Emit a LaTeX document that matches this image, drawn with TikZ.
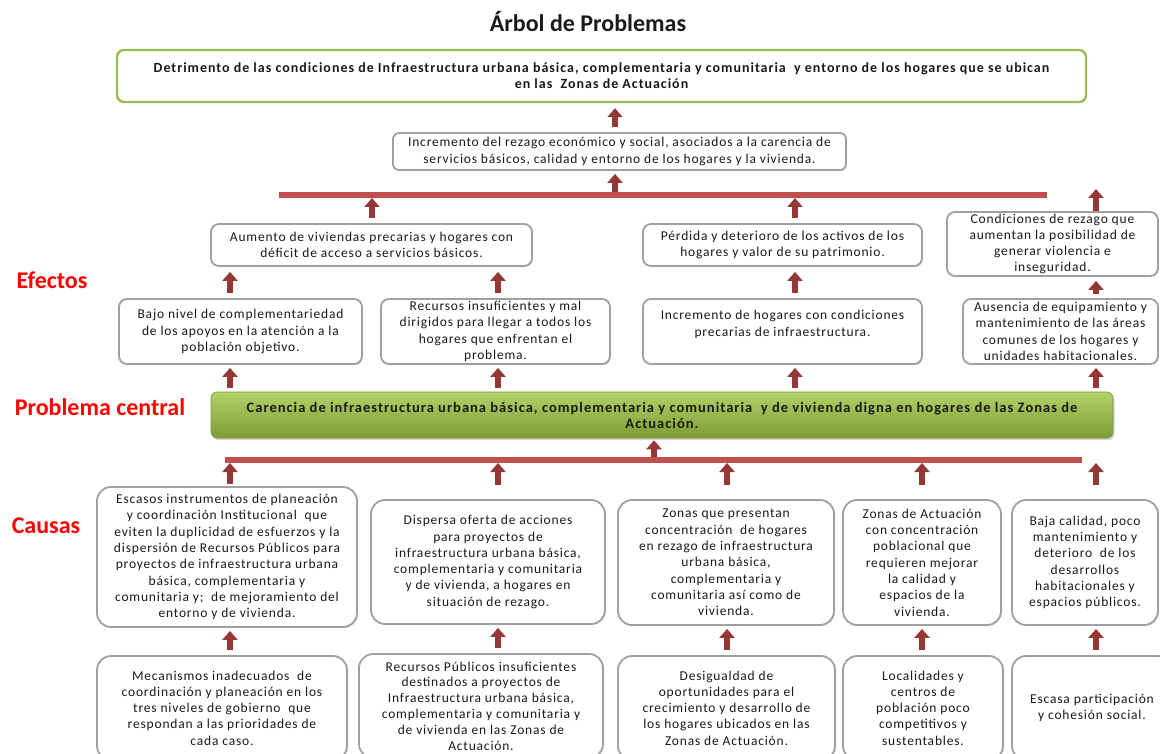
\documentclass[tikz,border=0pt]{standalone}
\usepackage{fontspec}
\setmainfont{Carlito}
\newfontfamily\bodyfont[LetterSpace=6]{Carlito}
\newfontfamily\headfont[LetterSpace=7]{Carlito}
\usetikzlibrary{arrows.meta,shadows}
\definecolor{arrowred}{HTML}{953735}
\definecolor{barred}{HTML}{C0504D}
\definecolor{boxgray}{HTML}{A0A0A0}
\definecolor{olivegreen}{HTML}{9BBB59}
\definecolor{ctop}{HTML}{B2D166}
\definecolor{cbot}{HTML}{7C9B32}
\definecolor{labelred}{HTML}{FF0000}
\definecolor{txt}{HTML}{1A1A1A}
\begin{document}
\begin{tikzpicture}[x=1pt,y=-1pt,
  box/.style={draw=boxgray, line width=1.8pt, rounded corners=8pt, fill=white, align=center, inner sep=0pt,
     font=\bodyfont\fontsize{13.5}{16.3}\selectfont, text=txt,
     drop shadow={opacity=0.18, shadow xshift=1.2pt, shadow yshift=-1.2pt}},
  cbox/.style={box, rounded corners=14pt},
  arr/.style={draw=arrowred, line width=6pt, -{Triangle[width=15pt,length=9pt]}, shorten <=5pt, shorten >=5pt},
  bar/.style={draw=barred, line width=6pt},
  lbl/.style={font=\fontsize{24}{28}\selectfont\bfseries, text=labelred}
]
\fill[white] (0,0) rectangle (1160,754);
\useasboundingbox (0,0) rectangle (1160,754);

% title and labels
\node[font=\fontsize{24}{28}\selectfont\bfseries, text=txt] (title) at (588,22) {Árbol de Problemas};
\node[lbl] (lef) at (52,280) {Efectos};
\node[lbl] (lpc) at (100,407) {Problema central};
\node[lbl] (lca) at (46,526) {Causas};

% column coordinates
\coordinate (c230) at (230,0);
\coordinate (c372) at (372,0);
\coordinate (c498) at (498,0);
\coordinate (c615) at (615,0);
\coordinate (c654) at (654,0);
\coordinate (c727) at (727,0);
\coordinate (c795) at (795,0);
\coordinate (c922) at (922,0);
\coordinate (c1096) at (1096,0);

% top effect
\node[box, draw=olivegreen, line width=2.4pt, rounded corners=7pt, minimum width=969pt, minimum height=52pt,
      font=\headfont\fontsize{14}{16}\selectfont\bfseries] (top) at (601.5,76)
  {Detrimento de las condiciones de Infraestructura urbana básica, complementaria y comunitaria \ y entorno de los hogares que se ubican\\ en las \ Zonas de Actuación};
\node[box, rounded corners=6pt, minimum width=453pt, minimum height=37pt] (inc) at (619.5,151.5)
  {Incremento del rezago económico y social, asociados a la carencia de\\ servicios básicos, calidad y entorno de los hogares y la vivienda.};

% top bar
\coordinate (tbL) at (279,195);
\coordinate (tbR) at (1047,195);
\coordinate (cTop) at (1096,189);
\draw[bar] (tbL) -- (tbR);

% effects level 1
\node[box, minimum width=321pt, minimum height=42pt] (A) at (371.5,245)
  {Aumento de viviendas precarias y hogares con\\ déficit de acceso a servicios básicos.};
\node[box, minimum width=279pt, minimum height=42pt] (B) at (782.5,245)
  {Pérdida y deterioro de los activos de los\\ hogares y valor de su patrimonio.};
\node[box, minimum width=211pt, minimum height=64pt] (C) at (1052.5,244)
  {Condiciones de rezago que\\ aumentan la posibilidad de\\ generar violencia e\\ inseguridad.};

% effects level 2
\node[box, minimum width=243pt, minimum height=65pt] (D) at (240.5,331.5)
  {Bajo nivel de complementariedad\\ de los apoyos en la atención a la\\ población objetivo.};
\node[box, minimum width=229pt, minimum height=65pt] (E) at (495.5,331.5)
  {Recursos insuficientes y mal\\ dirigidos para llegar a todos los\\ hogares que enfrentan el\\ problema.};
\node[box, minimum width=279pt, minimum height=65pt] (F) at (782.5,331.5)
  {Incremento de hogares con condiciones\\ precarias de infraestructura.\\ ~};
\node[box, minimum width=195pt, minimum height=65pt] (G) at (1060.5,331.5)
  {Ausencia de equipamiento y\\ mantenimiento de las áreas\\ comunes de los hogares y\\ unidades habitacionales.};

% central problem
\node[draw=olivegreen!80!black, line width=0.6pt, rounded corners=6pt, top color=ctop, bottom color=cbot,
      minimum width=902pt, minimum height=46pt, align=center, inner sep=0pt, text=txt,
      font=\headfont\fontsize{14.5}{16}\selectfont\bfseries,
      drop shadow={opacity=0.35, shadow xshift=1.5pt, shadow yshift=-2pt}] (cp) at (662,415)
  {Carencia de infraestructura urbana básica, complementaria y comunitaria \ y de vivienda digna en hogares de las Zonas de\\ Actuación.};

% bottom bar
\coordinate (bbL) at (225,460);
\coordinate (bbR) at (1082,460);
\draw[bar] (bbL) -- (bbR);

% causes level 1
\node[cbox, minimum width=260pt, minimum height=140pt] (H) at (227,557)
  {Escasos instrumentos de planeación\\ y coordinación Institucional \ que\\ eviten la duplicidad de esfuerzos y la\\ dispersión de Recursos Públicos para\\ proyectos de infraestructura urbana\\ básica, complementaria y\\ comunitaria y; \ de mejoramiento del\\ entorno y de vivienda.};
\node[cbox, minimum width=234pt, minimum height=124pt] (I) at (488,562)
  {Dispersa oferta de acciones\\ para proyectos de\\ infraestructura urbana básica,\\ complementaria y comunitaria\\ y de vivienda, a hogares en\\ situación de rezago.};
\node[cbox, minimum width=216pt, minimum height=125pt] (J) at (726,562.5)
  {Zonas que presentan\\ concentración \ de hogares\\ en rezago de infraestructura\\ urbana básica,\\ complementaria y\\ comunitaria así como de\\ vivienda.};
\node[cbox, minimum width=158pt, minimum height=125pt] (K) at (922,562.5)
  {Zonas de Actuación\\ con concentración\\ poblacional que\\ requieren mejorar\\ la calidad y\\ espacios de la\\ vivienda.};
\node[cbox, minimum width=146pt, minimum height=125pt] (L) at (1085,562.5)
  {Baja calidad, poco\\ mantenimiento y\\ deterioro \ de los\\ desarrollos\\ habitacionales y\\ espacios públicos.};

% causes level 2
\node[cbox, minimum width=250pt, minimum height=104pt] (M) at (222,708)
  {Mecanismos inadecuados \ de\\ coordinación y planeación en los\\ tres niveles de gobierno \ que\\ respondan a las prioridades de\\ cada caso.};
\node[cbox, minimum width=244pt, minimum height=104pt, font=\bodyfont\fontsize{13.5}{15.8}\selectfont] (N) at (481,706)
  {Recursos Públicos insuficientes\\ destinados a proyectos de\\ Infraestructura urbana básica,\\ complementaria y comunitaria y\\ de vivienda en las Zonas de\\ Actuación.};
\node[cbox, minimum width=217pt, minimum height=104pt] (O) at (726.5,708)
  {Desigualdad de\\ oportunidades para el\\ crecimiento y desarrollo de\\ los hogares ubicados en las\\ Zonas de Actuación.};
\node[cbox, minimum width=160pt, minimum height=104pt] (P) at (923,708)
  {Localidades y\\ centros de\\ población poco\\ competitivos y\\ sustentables.};
\node[cbox, minimum width=160pt, minimum height=104pt] (Q) at (1092,708)
  {Escasa participación\\ y cohesión social.};

% arrows: effects
\draw[arr] (inc.north -| c615) -- (top.south -| c615);
\draw[arr, shorten <=3pt, shorten >=3pt] (tbL -| c615) -- (inc.south -| c615);
\draw[arr, shorten >=3pt] (A.north -| c372) -- (tbL -| c372);
\draw[arr, shorten >=3pt] (B.north -| c795) -- (tbL -| c795);
\draw[arr, shorten <=0pt, shorten >=0pt] (C.north -| c1096) -- (cTop);
\draw[arr] (D.north -| c230) -- (A.south -| c230);
\draw[arr] (E.north -| c498) -- (A.south -| c498);
\draw[arr] (F.north -| c795) -- (B.south -| c795);
\draw[arr, shorten <=4pt, shorten >=4pt] (G.north -| c1096) -- (C.south -| c1096);
\draw[arr, shorten <=4pt, shorten >=3pt] (cp.north -| c230) -- (D.south -| c230);
\draw[arr, shorten <=4pt, shorten >=3pt] (cp.north -| c498) -- (E.south -| c498);
\draw[arr, shorten <=4pt, shorten >=3pt] (cp.north -| c795) -- (F.south -| c795);
\draw[arr, shorten <=4pt, shorten >=3pt] (cp.north -| c1096) -- (G.south -| c1096);
% arrows: causes
\draw[arr, shorten <=3pt, shorten >=2pt] (bbL -| c654) -- (cp.south -| c654);
\draw[arr, shorten <=2pt, shorten >=3pt] (H.north -| c230) -- (bbL -| c230);
\draw[arr, shorten <=14pt, shorten >=3pt] (I.north -| c498) -- (bbL -| c498);
\draw[arr, shorten <=14pt, shorten >=3pt] (J.north -| c727) -- (bbL -| c727);
\draw[arr, shorten <=14pt, shorten >=3pt] (K.north -| c922) -- (bbL -| c922);
\draw[arr, shorten <=14pt, shorten >=3pt] (L.north -| c1096) -- (bbL -| c1096);
\draw[arr, shorten >=3pt] (M.north -| c230) -- (H.south -| c230);
\draw[arr, shorten >=3pt] (N.north -| c498) -- (I.south -| c498);
\draw[arr, shorten >=3pt] (O.north -| c727) -- (J.south -| c727);
\draw[arr, shorten >=3pt] (P.north -| c922) -- (K.south -| c922);
\draw[arr, shorten >=3pt] (Q.north -| c1096) -- (L.south -| c1096);
\end{tikzpicture}
\end{document}
